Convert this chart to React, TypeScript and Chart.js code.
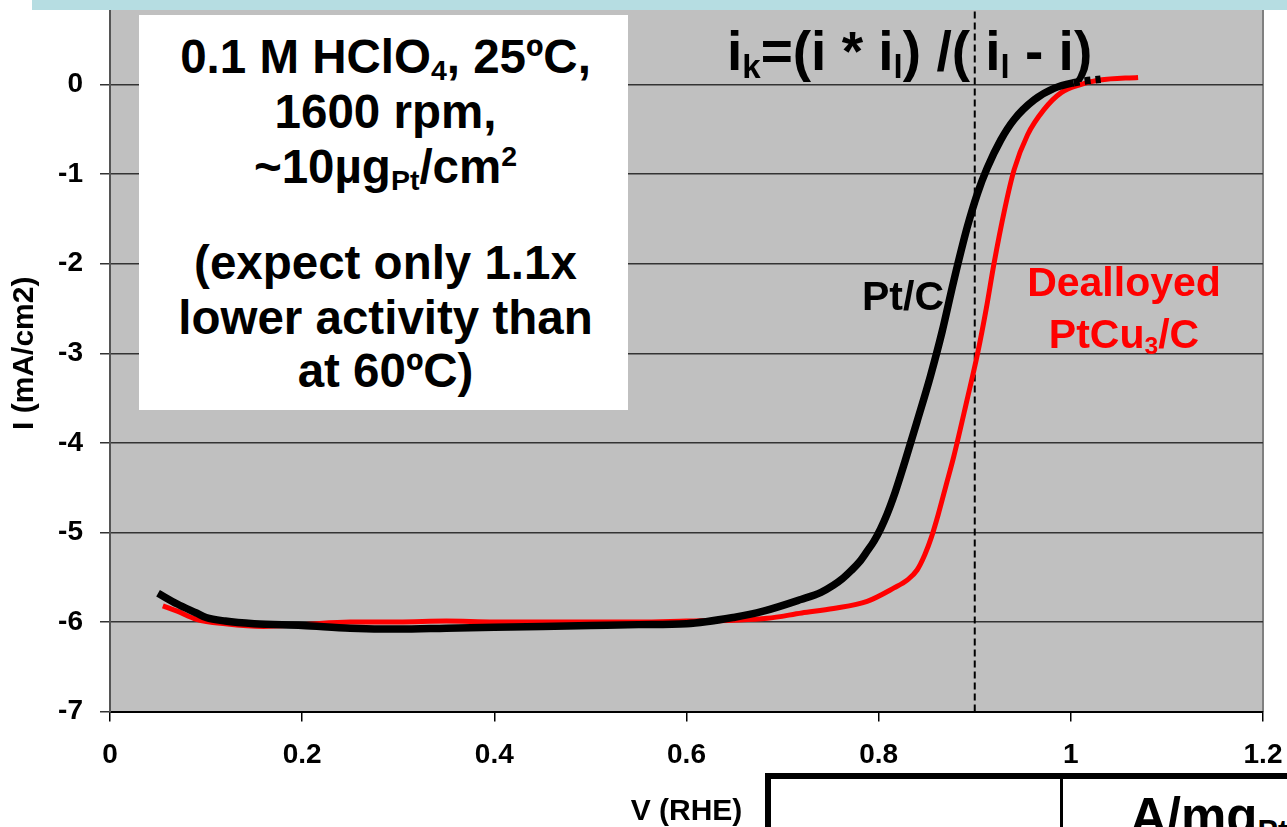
import { useEffect, useRef } from 'react';
import { Chart, registerables } from 'chart.js';

Chart.register(...registerables);

// Pt/C (black)
const ptcPotential = [0.05, 0.07, 0.09, 0.1, 0.12, 0.15, 0.2, 0.25, 0.3, 0.35, 0.4, 0.45, 0.5, 0.55, 0.6, 0.649, 0.68, 0.719, 0.74, 0.753, 0.762, 0.771, 0.78, 0.788, 0.795, 0.802, 0.809, 0.815, 0.827, 0.84, 0.854, 0.866, 0.878, 0.892, 0.903, 0.913, 0.927, 0.941, 0.962, 0.983, 1.003, 1.015, 1.031];
const ptcCurrent = [-5.68, -5.8, -5.9, -5.95, -5.99, -6.02, -6.04, -6.07, -6.08, -6.07, -6.06, -6.05, -6.04, -6.03, -6.02, -5.95, -5.88, -5.75, -5.67, -5.59, -5.52, -5.43, -5.33, -5.21, -5.1, -4.96, -4.79, -4.62, -4.22, -3.76, -3.25, -2.76, -2.2, -1.6, -1.21, -0.93, -0.62, -0.39, -0.17, -0.04, 0.02, 0.04, 0.06];

// Dealloyed PtCu3/C (red)
const ptcu3Potential = [0.055, 0.07, 0.09, 0.12, 0.16, 0.2, 0.25, 0.3, 0.35, 0.4, 0.45, 0.5, 0.55, 0.6, 0.65, 0.684, 0.72, 0.753, 0.788, 0.816, 0.83, 0.84, 0.848, 0.855, 0.862, 0.87, 0.878, 0.892, 0.903, 0.912, 0.92, 0.931, 0.941, 0.955, 0.972, 0.99, 1.01, 1.03, 1.07];
const ptcu3Current = [-5.82, -5.88, -5.97, -6.02, -6.05, -6.03, -6.0, -6.0, -5.99, -6.0, -6.0, -6.0, -6.0, -5.99, -5.98, -5.96, -5.9, -5.85, -5.77, -5.62, -5.53, -5.42, -5.25, -5.05, -4.8, -4.48, -4.16, -3.52, -3.0, -2.5, -2.0, -1.4, -0.95, -0.56, -0.28, -0.09, 0.0, 0.05, 0.08];

// dashed marker at 0.9 V
const markerPotential = [0.9, 0.9];
const markerCurrent = [-7, 1];

const xTickLabels = ['0', '0.2', '0.4', '0.6', '0.8', '1', '1.2'];
const yTickLabels = ['-7', '-6', '-5', '-4', '-3', '-2', '-1', '0'];

const FONT = '"Liberation Sans", Arial, Helvetica, sans-serif';

const toPoints = (xs: number[], ys: number[]) => xs.map((x, i) => ({ x, y: ys[i] }));

const plotBg = {
  id: 'plotBg',
  beforeDraw(chart: any) {
    const { ctx, chartArea } = chart;
    ctx.save();
    ctx.fillStyle = '#C0C0C0';
    ctx.fillRect(chartArea.left, chartArea.top, chartArea.right - chartArea.left, chartArea.bottom - chartArea.top);
    ctx.strokeStyle = '#808080';
    ctx.lineWidth = 2;
    ctx.beginPath();
    ctx.moveTo(chartArea.right, chartArea.top);
    ctx.lineTo(chartArea.right, chartArea.bottom);
    ctx.stroke();
    ctx.restore();
  },
};

const subStyle: any = { fontSize: '0.6em', verticalAlign: 'baseline', position: 'relative', top: '0.25em', lineHeight: 0 };
const supStyle: any = { fontSize: '0.6em', verticalAlign: 'baseline', position: 'relative', top: '-0.6em', lineHeight: 0 };

export default function App() {
  const ref = useRef<HTMLCanvasElement>(null);

  useEffect(() => {
    document.body.style.margin = '0';
    const canvas = ref.current as HTMLCanvasElement;
    const chart = new Chart(canvas, {
      type: 'line',
      data: {
        datasets: [
          {
            label: 'Pt/C',
            data: toPoints(ptcPotential, ptcCurrent),
            borderColor: '#000000',
            borderWidth: 7.5,
            pointRadius: 0,
            cubicInterpolationMode: 'monotone',
            order: 1,
            segment: {
              borderDash: (c: any) => (c.p0.parsed.x >= 1.0 ? [6, 5] : undefined),
            },
          } as any,
          {
            label: 'Dealloyed PtCu3/C',
            data: toPoints(ptcu3Potential, ptcu3Current),
            borderColor: '#FF0000',
            borderWidth: 5,
            pointRadius: 0,
            cubicInterpolationMode: 'monotone',
            order: 2,
          },
          {
            label: '0.9 V',
            data: toPoints(markerPotential, markerCurrent),
            borderColor: '#000000',
            borderWidth: 2,
            borderDash: [7, 4],
            pointRadius: 0,
            order: 3,
          },
        ],
      },
      options: {
        responsive: false,
        animation: false,
        layout: { padding: { top: 0, right: 24, bottom: 0, left: 0 } },
        plugins: {
          legend: { display: false },
          tooltip: { enabled: false },
          title: { display: false },
        },
        scales: {
          x: {
            type: 'linear',
            min: 0,
            max: 1.2,
            ticks: {
              stepSize: 0.2,
              color: '#000',
              padding: 17,
              maxRotation: 0,
              font: { family: FONT, size: 28, weight: 'bold' },
              callback: (v: any) => xTickLabels[Math.round(Number(v) / 0.2)] ?? '',
            },
            grid: { drawOnChartArea: false, drawTicks: true, tickLength: 10, color: '#000', lineWidth: 1.5 },
            border: { color: '#000', width: 2 },
            title: {
              display: true,
              text: 'V (RHE)',
              color: '#000',
              font: { family: FONT, size: 30, weight: 'bold' },
              padding: { top: 0, bottom: 5 },
            },
            afterFit: (s: any) => {
              s.height = 123.5;
              s.paddingLeft = 0;
              s.paddingRight = 0;
            },
          },
          y: {
            type: 'linear',
            min: -7,
            max: 1,
            ticks: {
              stepSize: 1,
              color: '#000',
              padding: 17,
              font: { family: FONT, size: 28, weight: 'bold' },
              callback: (v: any) => yTickLabels[Math.round(Number(v)) + 7] ?? '',
            },
            afterBuildTicks: (s: any) => {
              s.ticks = s.ticks.filter((t: any) => t.value <= 0);
            },
            grid: { drawOnChartArea: true, drawTicks: true, tickLength: 10, color: '#333', lineWidth: 1.5 },
            border: { color: '#555', width: 2 },
            title: {
              display: true,
              text: 'I (mA/cm2)',
              color: '#000',
              font: { family: FONT, size: 30, weight: 'bold' },
              padding: { top: 7, bottom: 0 },
            },
            afterFit: (s: any) => {
              s.width = 110;
              s.paddingTop = 0;
              s.paddingBottom = 0;
            },
          },
        },
      },
      plugins: [plotBg],
    } as any);
    return () => chart.destroy();
  }, []);

  return (
    <div
      style={{
        position: 'absolute',
        left: 0,
        top: 0,
        width: 1287,
        height: 827,
        overflow: 'hidden',
        background: '#fff',
        fontFamily: FONT,
        fontWeight: 'bold',
      }}
    >
      <canvas ref={ref} width={1287} height={840} style={{ position: 'absolute', left: 0, top: -5, width: 1287, height: 840 }} />

      {/* top band */}
      <div style={{ position: 'absolute', left: 32, top: 0, width: 1255, height: 10, background: '#B6DDE2' }} />

      {/* conditions box */}
      <div
        style={{
          position: 'absolute',
          left: 139,
          top: 15,
          width: 489,
          height: 395,
          background: '#fff',
          textAlign: 'center',
          fontSize: 47.5,
          lineHeight: '55px',
          color: '#000',
          boxSizing: 'border-box',
          paddingTop: 14,
          paddingLeft: 4,
        }}
      >
        <div>
          0.1 M HClO<span style={subStyle}>4</span>, 25ºC,
        </div>
        <div>1600 rpm,</div>
        <div>
          ~10µg<span style={subStyle}>Pt</span>/cm<span style={supStyle}>2</span>
        </div>
        <div style={{ marginTop: 41 }}>(expect only 1.1x</div>
        <div>lower activity than</div>
        <div style={{ marginTop: -2 }}>at 60ºC)</div>
      </div>

      {/* equation */}
      <div style={{ position: 'absolute', left: 727, top: 21, fontSize: 55, lineHeight: '60px', color: '#000', whiteSpace: 'pre' }}>
        i<span style={subStyle}>k</span>=(i * i<span style={subStyle}>l</span>) /( i<span style={subStyle}>l</span> - i)
      </div>

      {/* series labels */}
      <div style={{ position: 'absolute', left: 862, top: 272, fontSize: 41, lineHeight: '48px', color: '#000' }}>Pt/C</div>
      <div
        style={{
          position: 'absolute',
          left: 1004,
          top: 256,
          width: 240,
          textAlign: 'center',
          fontSize: 41,
          lineHeight: '52px',
          color: '#FF0000',
        }}
      >
        <div>Dealloyed</div>
        <div>
          PtCu<span style={subStyle}>3</span>/C
        </div>
      </div>

      {/* table fragment */}
      <div
        style={{
          position: 'absolute',
          left: 765,
          top: 773,
          width: 600,
          height: 100,
          borderTop: '6px solid #000',
          borderLeft: '6px solid #000',
          background: '#fff',
        }}
      />
      <div style={{ position: 'absolute', left: 1060, top: 773, width: 3, height: 60, background: '#000' }} />
      <div style={{ position: 'absolute', left: 1130, top: 787, fontSize: 51, lineHeight: '60px', color: '#000', whiteSpace: 'pre' }}>
        A/mg<span style={subStyle}>Pt</span>
      </div>
    </div>
  );
}
